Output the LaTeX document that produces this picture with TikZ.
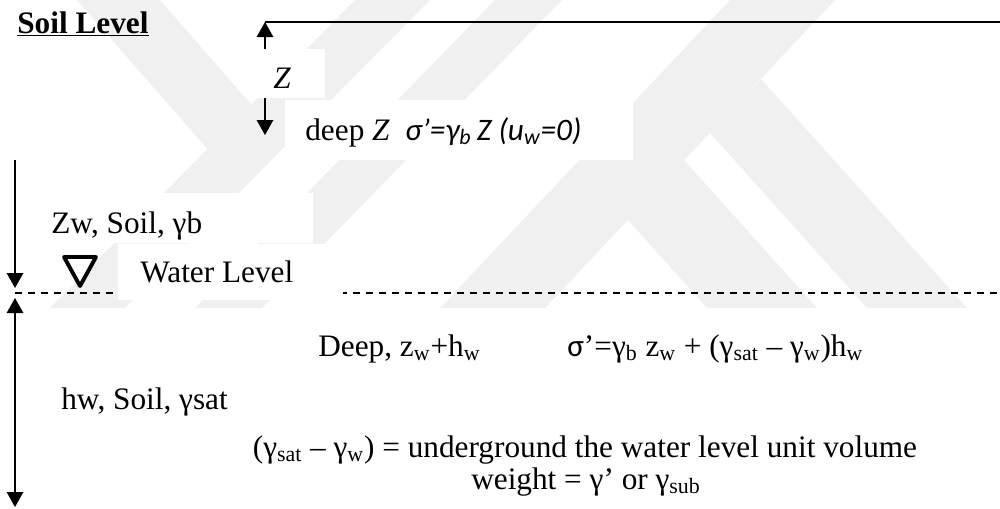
\documentclass[tikz,border=0pt]{standalone}
\usepackage{fontspec}
\setmainfont{Liberation Serif}
\newfontfamily\calfont{Carlito}
\usetikzlibrary{arrows.meta, positioning}

\begin{document}
\begin{tikzpicture}[
        % one unit = one pixel of the page
        x=0.02cm, y=-0.02cm,
        >={Triangle[width=0.33cm, length=0.3cm]},
        % dimension lines
        dim/.style={line width=0.8pt},
        % white text boxes
        mask/.style={fill=white},
        % label text
        label_text/.style={
            font=\fontsize{17.8}{18.5}\selectfont,
            inner sep=0pt,
            anchor=base west
        },
        % background watermark
        wmark/.style={fill=black!6}
    ]
    \useasboundingbox (0,0) rectangle (1000,508);

    % 1. watermark bands
    \begin{scope}
        \clip (0,0) rectangle (1000,308);
        \fill[wmark] (77,0) -- (160,0) -- (270,126) -- (225,169) -- cycle;
        \fill[wmark] (50,308) -- (125,308) -- (430,0) -- (355,0) -- cycle;
        \fill[wmark] (195,308) -- (262,308) -- (562,0) -- (495,0) -- cycle;
        \fill[wmark] (440,308) -- (545,308) -- (835,0) -- (730,0) -- cycle;
        \fill[wmark] (707,308) -- (817,308) -- (684,160) -- (628,220) -- cycle;
        \fill[wmark] (867,308) -- (967,308) -- (761,79) -- (710,133) -- cycle;
    \end{scope}

    % 2. soil level and depth Z
    \coordinate (zTop) at (265,22);
    \coordinate (zBot) at (265,135);
    \coordinate (soilEnd) at (1000,22);
    \draw[dim] (zTop) -- (soilEnd);
    \draw[dim, <->] (zTop) -- (zBot);

    % 3. water table
    \coordinate (zwTop) at (15,160);
    \coordinate (zwBot) at (15,288);
    \coordinate (hwTop) at (15,298);
    \coordinate (hwBot) at (15,507);
    \coordinate (wlStart) at (15,293);
    \coordinate (wlEnd) at (1000,293);
    \draw[dim, ->] (zwTop) -- (zwBot);
    \draw[dim, <->] (hwTop) -- (hwBot);
    \draw[line width=0.75pt, dash pattern=on 0.15cm off 0.11cm] (wlStart) -- (wlEnd);

    % text boxes over lines and watermark
    \fill[mask] (255,49) rectangle (325,98);
    \fill[mask] (285,100) rectangle (633,160);
    \fill[mask] (33,193) rectangle (313,243);
    \fill[mask] (118,244) rectangle (343,300);

    % water level sign
    \draw[line width=2.2pt, line join=round, fill=white]
        (64,257) -- (96,257) -- (80,286) -- cycle;

    % 4. labels
    \node[label_text] (soil) at (17,33) {\underline{\textbf{Soil Level}}};
    \node[label_text] (zlab) at (273,88) {\textit{Z}};
    \node[label_text] (deepz) at (305,140)
        {deep \textit{Z}\ \ {\calfont\itshape σ’=γ\textsubscript{b}\,Z (u\textsubscript{w}=0)}};
    \node[label_text] (zw) at (51,233) {Zw, Soil, γb};
    \node[label_text] (wl) at (140,282) {Water Level};
    \node[label_text] (deepzh) at (318,356) {Deep, z\textsubscript{w}+h\textsubscript{w}};
    \node[label_text] (sigma) at (567,356)
        {{\calfont σ}'=γ\textsubscript{b} z\textsubscript{w} + (γ\textsubscript{sat} – γ\textsubscript{w})h\textsubscript{w}};
    \node[label_text] (hw) at (61,409) {hw, Soil, γsat};
    \node[label_text, anchor=base] (gsub) at (585,457)
        {(γ\textsubscript{sat} – γ\textsubscript{w}) = underground the water level unit volume};
    \node[label_text, anchor=base] (weight) at (586,489)
        {weight = γ’ or γ\textsubscript{sub}};

\end{tikzpicture}
\end{document}
